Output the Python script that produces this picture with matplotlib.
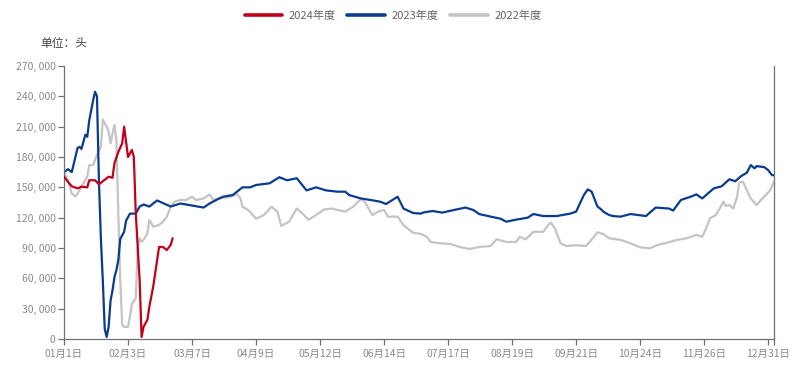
import matplotlib
matplotlib.use("Agg")
import matplotlib.pyplot as plt
from matplotlib.lines import Line2D
from matplotlib.ticker import FuncFormatter

plt.rcParams['font.family'] = ['Noto Sans CJK SC', 'DejaVu Sans']

# ---- data (day index from 01月1日, value in 头) ----
x_labels = ["01月1日", "02月3日", "03月7日", "04月9日", "05月12日", "06月14日",
            "07月17日", "08月19日", "09月21日", "10月24日", "11月26日", "12月31日"]
y_ticks = [0, 30000, 60000, 90000, 120000, 150000, 180000, 210000, 240000, 270000]

s2024_day = [0, 2, 4, 7, 9, 12, 13, 16, 18, 20, 23, 25, 26, 28, 30, 31, 33, 35, 36,
             37, 39, 40, 41, 43, 44, 46, 48, 49, 51, 53, 55, 56]
s2024_val = [160500, 155600, 151000, 149000, 150600, 150000, 157000, 157000, 153000,
             156000, 160500, 159500, 173800, 185000, 193500, 210000, 180000, 187000,
             180000, 124000, 58000, 2000, 12000, 19000, 32000, 52000, 78000, 91000,
             91000, 88000, 93000, 99600]

s2023_day = [0, 2, 4, 7, 8, 9, 11, 12, 13, 15, 16, 17, 18, 19, 20, 21, 22, 23, 24, 25,
             26, 27, 28, 29, 31, 32, 34, 37, 39, 41, 44, 48, 55, 60, 66, 72, 75, 77, 80,
             82, 87, 92, 96, 99, 106, 111, 115, 120, 125, 130, 135, 141, 145, 147, 153,
             158, 163, 166, 172, 175, 180, 184, 185, 190, 195, 201, 207, 211, 214, 220,
             225, 228, 233, 239, 242, 247, 254, 261, 264, 268, 270, 272, 275, 277, 278,
             281, 283, 287, 292, 300, 305, 312, 314, 318, 323, 326, 329, 333, 335, 339,
             343, 346, 349, 352, 354, 356, 357, 361, 363, 365, 366]
s2023_val = [165000, 168000, 165000, 189000, 190000, 188000, 202000, 200000, 216000,
             236000, 244500, 240000, 157000, 100000, 58000, 10000, 2000, 12000, 38000,
             48000, 61000, 68000, 78000, 99000, 106000, 117000, 124000, 124000, 131000,
             133000, 131000, 137000, 131000, 134000, 132000, 130000, 134000, 136000,
             139000, 140700, 142400, 150000, 150000, 152300, 154000, 160000, 157000,
             159000, 147000, 150000, 147000, 145700, 145700, 142400, 139000, 137500,
             135800, 133500, 140700, 129000, 124600, 124000, 125000, 126600, 125000,
             127600, 130000, 127600, 123600, 121000, 119000, 116000, 118000, 120000,
             123600, 121600, 121600, 124000, 126000, 142400, 148000, 145700, 131000,
             128000, 126000, 122600, 121600, 121000, 123600, 121600, 130000, 129000,
             127000, 137500, 140700, 143000, 139000, 145700, 149000, 151000, 158000,
             156000, 161000, 164500, 172000, 168800, 171000, 170000, 167000, 162000,
             162000]

s2022_day = [0, 2, 4, 6, 7, 9, 12, 13, 15, 17, 19, 20, 22, 23, 24, 25, 26, 27, 28, 29,
             30, 31, 33, 34, 35, 37, 38, 39, 40, 41, 43, 44, 46, 49, 51, 53, 55, 57, 60,
             63, 66, 68, 72, 75, 77, 80, 86, 89, 91, 92, 95, 99, 103, 107, 110, 112, 116,
             120, 123, 126, 130, 134, 138, 141, 145, 149, 153, 155, 159, 162, 165, 167,
             172, 175, 177, 180, 184, 187, 189, 194, 199, 204, 209, 214, 220, 223, 228,
             233, 235, 238, 242, 247, 250, 251, 253, 256, 259, 264, 269, 271, 275, 278,
             281, 287, 292, 297, 302, 306, 311, 316, 321, 326, 329, 331, 333, 336, 338,
             340, 341, 343, 345, 347, 348, 350, 352, 354, 357, 360, 364, 366]
s2022_val = [165000, 157000, 144000, 141000, 144000, 150600, 160500, 172000, 172000,
             182000, 190000, 217000, 210000, 205000, 193500, 203000, 211600, 197000,
             124000, 58000, 14000, 12000, 12000, 22000, 35000, 40000, 91000, 99600,
             96000, 98000, 104500, 117700, 111000, 112700, 116000, 121000, 130800,
             135800, 137500, 137500, 140700, 137500, 139000, 143000, 137500, 139000,
             140700, 143400, 139000, 130800, 127600, 119000, 122600, 130800, 126000,
             111800, 116000, 129000, 124000, 118000, 122600, 128000, 129000, 127600,
             126000, 130800, 138500, 135800, 122600, 126000, 127600, 121000, 121000,
             112700, 109500, 105000, 104000, 101000, 96000, 94600, 94000, 91000, 89000,
             91000, 92000, 98600, 96000, 96000, 101000, 98600, 106000, 106000, 113700,
             115000, 109500, 94600, 92000, 92700, 92000, 96000, 105500, 103800, 99600,
             98000, 94600, 90700, 89700, 93000, 95300, 98000, 99600, 103000, 101000,
             109500, 119400, 122600, 129000, 135800, 131600, 132500, 129000, 140700,
             154600, 155600, 147000, 139000, 132500, 139000, 147000, 155600]

series = [("2024年度", s2024_day, s2024_val, "#C3001B"),
          ("2023年度", s2023_day, s2023_val, "#0A3B8E"),
          ("2022年度", s2022_day, s2022_val, "#C4C4C4")]

# ---- figure ----
W, H = 803, 365
fig = plt.figure(figsize=(W / 100, H / 100), dpi=100)
ax = fig.add_axes([64 / W, (H - 339) / H, 710 / W, 273 / H])

for name, d, v, c in series[::-1]:
    ax.plot(d, v, color=c, lw=1.6, solid_joinstyle='round', solid_capstyle='round',
            zorder=3 if name == "2024年度" else (2 if name == "2023年度" else 1))

axis_c = "#6E7079"
ax.set_xlim(0, 366)
ax.set_ylim(0, 270000)
tick_pos = [i * 33 for i in range(len(x_labels))]
ax.set_xticks(tick_pos + [366])
ax.set_xticklabels(x_labels + [""])
ax.set_yticks(y_ticks)
ax.yaxis.set_major_formatter(FuncFormatter(lambda v, p: f"{int(v):,}".replace(",", ", ")))

ax.spines["top"].set_visible(False)
for s in ["left", "bottom", "right"]:
    ax.spines[s].set_color(axis_c)
    ax.spines[s].set_linewidth(0.9)
ax.tick_params(axis='both', direction='out', length=4, width=0.9, color=axis_c,
               labelcolor="#8a8a8a", labelsize=7.5)
ax.tick_params(axis='x', pad=3)
ax.tick_params(axis='y', pad=2)
ax.grid(False)

fig.text(40 / W, 1 - 43 / H, "单位：头", fontsize=8.5, color="#444444", va='center', ha='left')

handles = [Line2D([0], [0], color=c, lw=2.6, solid_capstyle='round') for _, _, _, c in series]
labels = [n for n, _, _, _ in series]
fig.legend(handles, labels, loc='center', bbox_to_anchor=(393 / W, 1 - 16 / H), ncol=3,
           frameon=False, fontsize=8, handlelength=3.4, handletextpad=0.6,
           columnspacing=1.0, labelcolor="#666666")

fig.savefig("out.png", dpi=100)
